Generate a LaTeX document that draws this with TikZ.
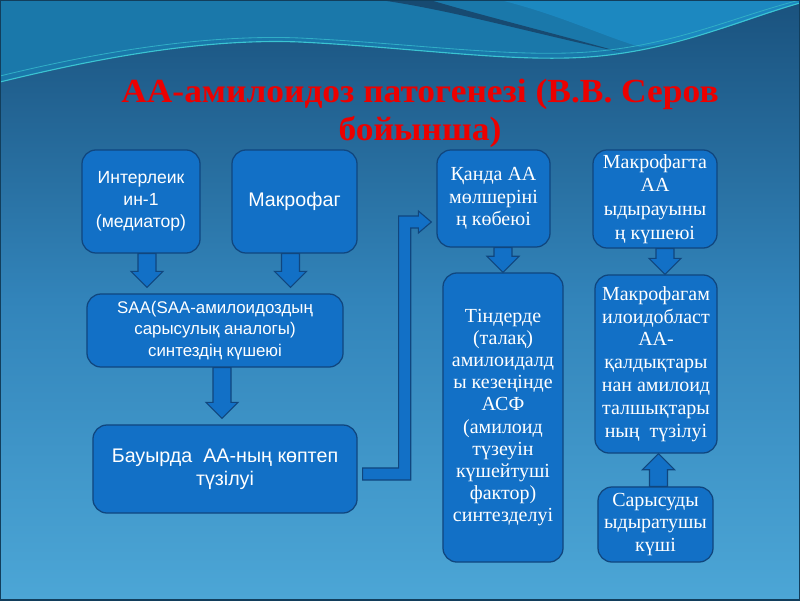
\documentclass[tikz,border=0pt]{standalone}
\usepackage{fontspec}
\setmainfont{Liberation Serif}
\setsansfont{Liberation Sans}
\newfontfamily\titlefont[FakeStretch=1.05]{Liberation Serif}
\usepackage{tikz}
\usetikzlibrary{calc}

\definecolor{boxfill}{RGB}{18,112,198}
\definecolor{boxline}{RGB}{16,70,126}
\definecolor{bgtop}{RGB}{26,82,126}
\definecolor{bgmid}{RGB}{50,132,186}
\definecolor{bgbot}{RGB}{76,166,214}
\definecolor{swoosh}{RGB}{26,120,170}
\definecolor{swooshhi}{RGB}{28,136,192}
\definecolor{swline}{RGB}{58,196,210}
\definecolor{titlered}{RGB}{236,0,0}
\definecolor{framecol}{RGB}{18,62,92}

% block arrow between two points on one vertical
\newcommand\shaftw{6.4pt}
\newcommand\headw{11.4pt}
\newcommand\headl{11.4pt}
\newcommand\blkarrow[2]{%
  \draw[blockarrow] let \p1=#1, \p2=#2, \n1={sign(\y2-\y1)} in
    ({\x1-\shaftw},\y1) -- ({\x1-\shaftw},{\y2-(\n1)*\headl})
    -- ({\x1-\headw},{\y2-(\n1)*\headl}) -- (\x1,\y2)
    -- ({\x1+\headw},{\y2-(\n1)*\headl}) -- ({\x1+\shaftw},{\y2-(\n1)*\headl})
    -- ({\x1+\shaftw},\y1) -- cycle;}

\begin{document}
\begin{tikzpicture}[x=0.025cm, y=0.025cm,
    box/.style={draw=boxline, fill=boxfill, line width=0.9pt, rounded corners=0.35cm,
                align=center, text=white, inner sep=2pt},
    sbox/.style={box, font=\sffamily\fontsize{12.5}{15.5}\selectfont},
    rbox/.style={box, font=\fontsize{14.2}{16.2}\selectfont},
    blockarrow/.style={draw=boxline, fill=boxfill, line width=0.8pt, line join=miter},
    title/.style={align=center, text=titlered, font=\titlefont\bfseries\fontsize{24}{27}\selectfont},
]
\useasboundingbox (0,0) rectangle (800,600);

% фон
\shade[top color=bgtop, bottom color=bgbot, middle color=bgmid] (0,0) rectangle (800,600);
\fill[swoosh] (0,600) -- (0,518) .. controls (90,540) and (200,562) .. (300,558)
    .. controls (420,552) and (520,536) .. (600,544) .. controls (680,552) and (740,580) .. (800,597)
    -- (800,600) -- cycle;
\fill[swooshhi] (500,600) .. controls (560,585) and (600,565) .. (640,553)
    .. controls (700,560) and (760,585) .. (800,597) -- (800,600) -- cycle;
\fill[bgtop!90!black] (380,600) .. controls (450,590) and (520,570) .. (620,548)
    .. controls (560,565) and (480,585) .. (430,600) -- cycle;
\draw[swline, line width=0.8pt] (0,518) .. controls (90,540) and (200,562) .. (300,558)
    .. controls (420,552) and (520,536) .. (600,544) .. controls (680,552) and (740,580) .. (800,597);
\draw[swline!70!swoosh, line width=0.6pt] (0,524) .. controls (90,546) and (200,566) .. (300,562)
    .. controls (420,556) and (520,541) .. (600,549) .. controls (680,557) and (740,585) .. (800,600);

% заголовок
\node[title] (title) at (420,487) {АА-амилоидоз патогенезі (В.В. Серов\\бойынша)};

% сол жақ
\node[sbox, minimum width=2.95cm, minimum height=2.575cm] (inter) at (141,398.5)
    {Интерлеик\\ин-1\\(медиатор)};
\node[sbox, minimum width=3.125cm, minimum height=2.575cm, font=\sffamily\fontsize{14}{16}\selectfont] (macro) at (294.5,398.5)
    {Макрофаг};
\node[sbox, minimum width=6.4cm, minimum height=1.825cm, font=\sffamily\fontsize{12}{15.3}\selectfont] (saa) at (215,269.5)
    {SAA(SAA-амилоидоздың\\сарысулық аналогы)\\синтездің күшеюі};
\node[sbox, minimum width=6.6cm, minimum height=2.2cm, font=\sffamily\fontsize{14}{16.5}\selectfont] (liver) at (225,131)
    {Бауырда\ \ АА-ның көптеп\\түзілуі};

% ортаңғы
\node[rbox, minimum width=2.825cm, minimum height=2.425cm] (blood) at (493.5,401.5)
    {Қанда АА\\мөлшерінi\\ң көбеюі};
\node[rbox, minimum width=3cm, minimum height=7.225cm, font=\fontsize{14.2}{15.7}\selectfont] (tissue) at (503,182.5)
    {Тіндерде\\(талақ)\\амилоидалд\\ы кезеңінде\\АСФ\\(амилоид\\түзеуін\\күшейтуші\\фактор)\\синтезделуі};

% оң жақ
\node[rbox, minimum width=3.1cm, minimum height=2.45cm, font=\fontsize{14.2}{16.8}\selectfont] (decay) at (655,401)
    {Макрофагта\\АА\\ыдырауыны\\ң күшеюі};
\node[rbox, minimum width=3.05cm, minimum height=4.45cm] (fibre) at (656,236)
    {Макрофагам\\илоидобласт\\АА-\\қалдықтары\\нан амилоид\\талшықтары\\ның\ \ түзілуі};
\node[rbox, minimum width=2.875cm, minimum height=1.875cm] (serum) at (655.5,75.5)
    {Сарысуды\\ыдыратушы\\күші};

% көрсеткілер
\blkarrow{([xshift=0.15cm]inter.south)}{([xshift=0.15cm,yshift=0.15cm]inter.south |- saa.north)}
\blkarrow{([xshift=-0.1cm]macro.south)}{([xshift=-0.1cm,yshift=0.15cm]macro.south |- saa.north)}
\blkarrow{([xshift=-0.075cm]liver.north |- saa.south)}{([xshift=-0.075cm,yshift=0.15cm]liver.north)}
\blkarrow{(tissue.north |- blood.south)}{(tissue.north)}
\blkarrow{([xshift=0.25cm]decay.south)}{([xshift=0.25cm]decay.south |- fibre.north)}
\blkarrow{([xshift=0.075cm]serum.north)}{([xshift=0.075cm]serum.north |- fibre.south)}

% бүгілген көрсеткі
\draw[blockarrow] let \p1=([xshift=0.125cm,yshift=-0.125cm]liver.east),
    \p2=([xshift=-0.125cm,yshift=-0.5875cm]blood.west),
    \p3=([xshift=1.175cm]liver.east) in
    (\x1,{\y1+4.3pt}) -- ({\x3-4.3pt},{\y1+4.3pt}) -- ({\x3-4.3pt},{\y2+4.3pt})
    -- ({\x2-9.2pt},{\y2+4.3pt}) -- ({\x2-9.2pt},{\y2+7.8pt}) -- (\x2,\y2)
    -- ({\x2-9.2pt},{\y2-7.8pt}) -- ({\x2-9.2pt},{\y2-4.3pt}) -- ({\x3+4.3pt},{\y2-4.3pt})
    -- ({\x3+4.3pt},{\y1-4.3pt}) -- (\x1,{\y1-4.3pt}) -- cycle;

\draw[framecol, line width=1.5pt] (0,0) rectangle (800,600);
\end{tikzpicture}
\end{document}
